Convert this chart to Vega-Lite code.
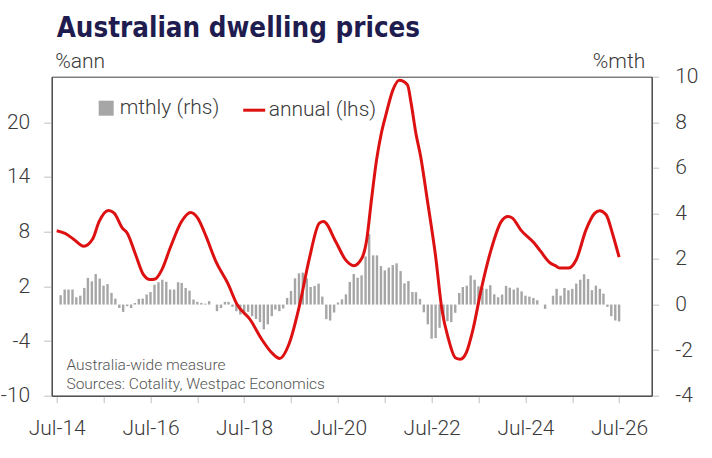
{
  "$schema": "https://vega.github.io/schema/vega-lite/v6.json",
  "width": 600,
  "height": 319,
  "autosize": {"type": "none"},
  "padding": {"left": 51.7, "top": 76.7, "right": 60.3, "bottom": 62.3},
  "background": "white",
  "title": {
    "text": "Australian dwelling prices",
    "font": "'DejaVu Sans Condensed', 'Liberation Sans Narrow', 'DejaVu Sans', sans-serif",
    "fontWeight": "bold",
    "fontSize": 27.5,
    "color": "#1F1C4F",
    "anchor": "start",
    "frame": "group",
    "dx": 5,
    "offset": 8
  },
  "config": {
    "view": {"stroke": "#404040", "strokeWidth": 1},
    "font": "Roboto",
    "axis": {
      "labelFont": "Roboto",
      "labelFontWeight": 300,
      "labelFontSize": 21,
      "labelColor": "#3a3a3a",
      "titleFont": "Roboto",
      "titleFontWeight": 300,
      "titleFontSize": 21,
      "titleColor": "#3a3a3a",
      "domainColor": "#404040",
      "tickColor": "#BFBFBF",
      "grid": false
    },
    "legend": {
      "labelFont": "Roboto",
      "labelFontWeight": 300,
      "labelFontSize": 21,
      "labelColor": "#3a3a3a"
    }
  },
  "datasets": {
    "bars": [
      {"date": "2014-08-01", "mthly": 0.41}, {"date": "2014-09-01", "mthly": 0.66}, {"date": "2014-10-01", "mthly": 0.66}, {"date": "2014-11-01", "mthly": 0.66}, {"date": "2014-12-01", "mthly": 0.32},
      {"date": "2015-01-01", "mthly": 0.39}, {"date": "2015-02-01", "mthly": 0.73}, {"date": "2015-03-01", "mthly": 1.17}, {"date": "2015-04-01", "mthly": 1.02}, {"date": "2015-05-01", "mthly": 1.34}, {"date": "2015-06-01", "mthly": 1.14}, {"date": "2015-07-01", "mthly": 0.83}, {"date": "2015-08-01", "mthly": 0.9}, {"date": "2015-09-01", "mthly": 0.51}, {"date": "2015-10-01", "mthly": 0.26}, {"date": "2015-11-01", "mthly": -0.15}, {"date": "2015-12-01", "mthly": -0.32},
      {"date": "2016-01-01", "mthly": -0.07}, {"date": "2016-02-01", "mthly": -0.15}, {"date": "2016-03-01", "mthly": 0.07}, {"date": "2016-04-01", "mthly": 0.25}, {"date": "2016-05-01", "mthly": 0.26}, {"date": "2016-06-01", "mthly": 0.44}, {"date": "2016-07-01", "mthly": 0.55}, {"date": "2016-08-01", "mthly": 0.87}, {"date": "2016-09-01", "mthly": 0.98}, {"date": "2016-10-01", "mthly": 1.09}, {"date": "2016-11-01", "mthly": 1.0}, {"date": "2016-12-01", "mthly": 0.66},
      {"date": "2017-01-01", "mthly": 0.66}, {"date": "2017-02-01", "mthly": 0.98}, {"date": "2017-03-01", "mthly": 0.95}, {"date": "2017-04-01", "mthly": 0.73}, {"date": "2017-05-01", "mthly": 0.61}, {"date": "2017-06-01", "mthly": 0.22}, {"date": "2017-07-01", "mthly": 0.12}, {"date": "2017-08-01", "mthly": 0.07}, {"date": "2017-09-01", "mthly": 0.04}, {"date": "2017-10-01", "mthly": 0.15}, {"date": "2017-11-01", "mthly": 0.0}, {"date": "2017-12-01", "mthly": -0.29},
      {"date": "2018-01-01", "mthly": -0.15}, {"date": "2018-02-01", "mthly": 0.12}, {"date": "2018-03-01", "mthly": 0.12}, {"date": "2018-04-01", "mthly": -0.1}, {"date": "2018-05-01", "mthly": -0.29}, {"date": "2018-06-01", "mthly": -0.44}, {"date": "2018-07-01", "mthly": -0.34}, {"date": "2018-08-01", "mthly": -0.32}, {"date": "2018-09-01", "mthly": -0.51}, {"date": "2018-10-01", "mthly": -0.63}, {"date": "2018-11-01", "mthly": -0.77}, {"date": "2018-12-01", "mthly": -1.09},
      {"date": "2019-01-01", "mthly": -0.87}, {"date": "2019-02-01", "mthly": -0.51}, {"date": "2019-03-01", "mthly": -0.22}, {"date": "2019-04-01", "mthly": -0.29}, {"date": "2019-05-01", "mthly": -0.17}, {"date": "2019-06-01", "mthly": 0.29}, {"date": "2019-07-01", "mthly": 0.6}, {"date": "2019-08-01", "mthly": 1.15}, {"date": "2019-09-01", "mthly": 1.37}, {"date": "2019-10-01", "mthly": 1.4}, {"date": "2019-11-01", "mthly": 1.14}, {"date": "2019-12-01", "mthly": 0.77},
      {"date": "2020-01-01", "mthly": 0.82}, {"date": "2020-02-01", "mthly": 0.92}, {"date": "2020-03-01", "mthly": 0.35}, {"date": "2020-04-01", "mthly": -0.64}, {"date": "2020-05-01", "mthly": -0.7}, {"date": "2020-06-01", "mthly": -0.35}, {"date": "2020-07-01", "mthly": 0.09}, {"date": "2020-08-01", "mthly": 0.23}, {"date": "2020-09-01", "mthly": 0.45}, {"date": "2020-10-01", "mthly": 0.99}, {"date": "2020-11-01", "mthly": 1.34}, {"date": "2020-12-01", "mthly": 1.18},
      {"date": "2021-01-01", "mthly": 1.28}, {"date": "2021-02-01", "mthly": 2.11}, {"date": "2021-03-01", "mthly": 3.09}, {"date": "2021-04-01", "mthly": 2.16}, {"date": "2021-05-01", "mthly": 2.16}, {"date": "2021-06-01", "mthly": 1.69}, {"date": "2021-07-01", "mthly": 1.5}, {"date": "2021-08-01", "mthly": 1.62}, {"date": "2021-09-01", "mthly": 1.73}, {"date": "2021-10-01", "mthly": 1.81}, {"date": "2021-11-01", "mthly": 1.47}, {"date": "2021-12-01", "mthly": 0.93},
      {"date": "2022-01-01", "mthly": 1.03}, {"date": "2022-02-01", "mthly": 0.55}, {"date": "2022-03-01", "mthly": 0.54}, {"date": "2022-04-01", "mthly": 0.25}, {"date": "2022-05-01", "mthly": -0.34}, {"date": "2022-06-01", "mthly": -0.87}, {"date": "2022-07-01", "mthly": -1.5}, {"date": "2022-08-01", "mthly": -1.47}, {"date": "2022-09-01", "mthly": -1.02}, {"date": "2022-10-01", "mthly": -0.66}, {"date": "2022-11-01", "mthly": -0.73}, {"date": "2022-12-01", "mthly": -0.77},
      {"date": "2023-01-01", "mthly": -0.36}, {"date": "2023-02-01", "mthly": 0.51}, {"date": "2023-03-01", "mthly": 0.77}, {"date": "2023-04-01", "mthly": 0.83}, {"date": "2023-05-01", "mthly": 1.28}, {"date": "2023-06-01", "mthly": 1.09}, {"date": "2023-07-01", "mthly": 0.8}, {"date": "2023-08-01", "mthly": 0.73}, {"date": "2023-09-01", "mthly": 0.69}, {"date": "2023-10-01", "mthly": 0.85}, {"date": "2023-11-01", "mthly": 0.45}, {"date": "2023-12-01", "mthly": 0.32},
      {"date": "2024-01-01", "mthly": 0.44}, {"date": "2024-02-01", "mthly": 0.82}, {"date": "2024-03-01", "mthly": 0.74}, {"date": "2024-04-01", "mthly": 0.66}, {"date": "2024-05-01", "mthly": 0.74}, {"date": "2024-06-01", "mthly": 0.58}, {"date": "2024-07-01", "mthly": 0.39}, {"date": "2024-08-01", "mthly": 0.35}, {"date": "2024-09-01", "mthly": 0.29}, {"date": "2024-10-01", "mthly": 0.19}, {"date": "2024-11-01", "mthly": 0.0}, {"date": "2024-12-01", "mthly": -0.19},
      {"date": "2025-01-01", "mthly": 0.0}, {"date": "2025-02-01", "mthly": 0.39}, {"date": "2025-03-01", "mthly": 0.69}, {"date": "2025-04-01", "mthly": 0.39}, {"date": "2025-05-01", "mthly": 0.73}, {"date": "2025-06-01", "mthly": 0.63}, {"date": "2025-07-01", "mthly": 0.69}, {"date": "2025-08-01", "mthly": 0.92}, {"date": "2025-09-01", "mthly": 1.09}, {"date": "2025-10-01", "mthly": 1.33}, {"date": "2025-11-01", "mthly": 1.12}, {"date": "2025-12-01", "mthly": 0.63},
      {"date": "2026-01-01", "mthly": 0.83}, {"date": "2026-02-01", "mthly": 0.69}, {"date": "2026-03-01", "mthly": 0.48}, {"date": "2026-04-01", "mthly": -0.1}, {"date": "2026-05-01", "mthly": -0.51}, {"date": "2026-06-01", "mthly": -0.7}, {"date": "2026-07-01", "mthly": -0.74}
    ],
    "annual": [
      {"date": "2014-07-01", "annual": 8.1}, {"date": "2014-09-04", "annual": 7.8}, {"date": "2014-11-07", "annual": 7.2}, {"date": "2015-01-28", "annual": 6.4}, {"date": "2015-04-07", "annual": 7.19}, {"date": "2015-05-28", "annual": 9.12}, {"date": "2015-08-07", "annual": 10.33}, {"date": "2015-09-22", "annual": 10.04}, {"date": "2015-11-25", "annual": 8.39},
      {"date": "2016-01-01", "annual": 7.85}, {"date": "2016-03-07", "annual": 5.47}, {"date": "2016-05-07", "annual": 3.28}, {"date": "2016-06-28", "annual": 2.74}, {"date": "2016-08-07", "annual": 2.81}, {"date": "2016-09-28", "annual": 3.83}, {"date": "2016-12-01", "annual": 6.2},
      {"date": "2017-02-28", "annual": 9.12}, {"date": "2017-05-10", "annual": 10.1}, {"date": "2017-07-04", "annual": 9.49}, {"date": "2017-09-07", "annual": 7.48}, {"date": "2017-11-22", "annual": 4.74},
      {"date": "2018-02-22", "annual": 2.37}, {"date": "2018-05-07", "annual": 0.0}, {"date": "2018-08-16", "annual": -1.64}, {"date": "2018-11-16", "annual": -3.83},
      {"date": "2019-02-01", "annual": -5.29}, {"date": "2019-04-04", "annual": -5.91}, {"date": "2019-06-19", "annual": -4.2}, {"date": "2019-09-04", "annual": -0.18}, {"date": "2019-11-19", "annual": 4.93},
      {"date": "2020-02-07", "annual": 8.94}, {"date": "2020-03-10", "annual": 9.12}, {"date": "2020-06-13", "annual": 6.93}, {"date": "2020-08-28", "annual": 4.93}, {"date": "2020-11-01", "annual": 4.27},
      {"date": "2021-01-04", "annual": 5.11}, {"date": "2021-02-10", "annual": 7.12}, {"date": "2021-03-19", "annual": 11.5}, {"date": "2021-04-28", "annual": 15.9}, {"date": "2021-06-04", "annual": 18.8}, {"date": "2021-07-13", "annual": 21.0}, {"date": "2021-09-01", "annual": 23.5}, {"date": "2021-10-22", "annual": 24.6}, {"date": "2021-12-25", "annual": 24.1},
      {"date": "2022-01-22", "annual": 22.1}, {"date": "2022-02-28", "annual": 18.8}, {"date": "2022-04-07", "annual": 16.2}, {"date": "2022-05-28", "annual": 11.5}, {"date": "2022-08-01", "annual": 5.28}, {"date": "2022-09-19", "annual": -0.55}, {"date": "2022-11-10", "annual": -3.83},
      {"date": "2023-01-01", "annual": -5.83}, {"date": "2023-02-10", "annual": -6.0}, {"date": "2023-03-28", "annual": -5.28}, {"date": "2023-05-19", "annual": -2.74}, {"date": "2023-07-22", "annual": 1.64}, {"date": "2023-10-07", "annual": 6.0}, {"date": "2023-12-25", "annual": 9.1},
      {"date": "2024-02-16", "annual": 9.66}, {"date": "2024-03-22", "annual": 9.48}, {"date": "2024-05-25", "annual": 8.2}, {"date": "2024-09-07", "annual": 6.75}, {"date": "2024-10-28", "annual": 5.83},
      {"date": "2025-01-10", "annual": 4.56}, {"date": "2025-02-19", "annual": 4.27}, {"date": "2025-03-28", "annual": 4.0}, {"date": "2025-06-01", "annual": 4.0}, {"date": "2025-08-01", "annual": 4.92}, {"date": "2025-10-16", "annual": 8.2}, {"date": "2025-12-22", "annual": 10.0},
      {"date": "2026-02-01", "annual": 10.3}, {"date": "2026-03-22", "annual": 9.85}, {"date": "2026-05-13", "annual": 7.66}, {"date": "2026-07-01", "annual": 5.2}
    ],
    "notes": [
      {"note": "Australia-wide measure", "line": 1},
      {"note": "Sources: Cotality, Westpac Economics", "line": 2}
    ]
  },
  "layer": [
    {
      "layer": [
        {
          "data": {"name": "bars"},
          "mark": {"type": "bar", "width": 2.4},
          "encoding": {
            "x": {
              "field": "date", "type": "temporal",
              "scale": {"domain": [{"year": 2014, "month": 7, "date": 1}, {"year": 2027, "month": 2, "date": 1}]},
              "axis": {
                "title": null,
                "values": [
                  {"year": 2014, "month": 7, "date": 1}, {"year": 2015, "month": 7, "date": 1}, {"year": 2016, "month": 7, "date": 1},
                  {"year": 2017, "month": 7, "date": 1}, {"year": 2018, "month": 7, "date": 1}, {"year": 2019, "month": 7, "date": 1},
                  {"year": 2020, "month": 7, "date": 1}, {"year": 2021, "month": 7, "date": 1}, {"year": 2022, "month": 7, "date": 1},
                  {"year": 2023, "month": 7, "date": 1}, {"year": 2024, "month": 7, "date": 1}, {"year": 2025, "month": 7, "date": 1},
                  {"year": 2026, "month": 7, "date": 1}
                ],
                "labelExpr": "year(datum.value) % 2 == 0 ? timeFormat(datum.value, '%b-%y') : ''",
                "tickSize": 7,
                "labelPadding": 15,
                "labelFlush": false,
                "labelOverlap": false
              }
            },
            "y": {
              "field": "mthly", "type": "quantitative",
              "scale": {"domain": [-4, 10], "nice": false, "zero": false},
              "axis": {
                "orient": "right",
                "values": [-4, -2, 0, 2, 4, 6, 8, 10],
                "labelExpr": "datum.value < 0 ? '-' + abs(datum.value) : '' + datum.value",
                "title": "%mth",
                "titleAngle": 0,
                "titleAlign": "right",
                "titleBaseline": "alphabetic",
                "titleX": -7,
                "titleY": -9,
                "tickSize": 7,
                "labelPadding": 16
              }
            },
            "fill": {
              "datum": "mthly (rhs)",
              "scale": {"range": ["#A6A6A6"]},
              "legend": {
                "orient": "none",
                "legendX": 44,
                "legendY": 21,
                "title": null,
                "symbolType": "square",
                "symbolSize": 225,
                "symbolStrokeWidth": 0,
                "labelOffset": 3
              }
            }
          }
        },
        {
          "mark": {"type": "rule", "color": "#555555", "strokeWidth": 1.2},
          "encoding": {"y": {"datum": 0}}
        }
      ]
    },
    {
      "layer": [
        {
          "data": {"name": "annual"},
          "mark": {"type": "line", "strokeWidth": 3, "interpolate": "monotone"},
          "encoding": {
            "x": {
              "field": "date", "type": "temporal",
              "scale": {"domain": [{"year": 2014, "month": 7, "date": 1}, {"year": 2027, "month": 2, "date": 1}]}
            },
            "y": {
              "field": "annual", "type": "quantitative",
              "scale": {"domain": [-10, 25], "nice": false, "zero": false},
              "axis": {
                "orient": "left",
                "values": [-10, -4, 2, 8, 14, 20],
                "labelExpr": "datum.value < 0 ? '-' + abs(datum.value) : '' + datum.value",
                "title": "%ann",
                "titleAngle": 0,
                "titleAlign": "left",
                "titleBaseline": "alphabetic",
                "titleX": 3,
                "titleY": -9,
                "tickSize": 8,
                "labelPadding": 14
              }
            },
            "stroke": {
              "datum": "annual (lhs)",
              "scale": {"range": ["#DD1111"]},
              "legend": {
                "orient": "none",
                "legendX": 190,
                "legendY": 21,
                "title": null,
                "symbolType": "stroke",
                "symbolSize": 484,
                "symbolStrokeWidth": 3,
                "labelOffset": 2
              }
            }
          }
        },
        {
          "data": {"name": "notes"},
          "transform": [{"filter": "datum.line == 1"}],
          "mark": {"type": "text", "align": "left", "baseline": "middle", "fontSize": 15.5, "font": "Roboto", "fontWeight": 300, "color": "#555555"},
          "encoding": {
            "x": {"datum": {"year": 2014, "month": 9, "date": 15}, "type": "temporal"},
            "y": {"datum": -6.65},
            "text": {"field": "note"}
          }
        },
        {
          "data": {"name": "notes"},
          "transform": [{"filter": "datum.line == 2"}],
          "mark": {"type": "text", "align": "left", "baseline": "middle", "fontSize": 15.5, "font": "Roboto", "fontWeight": 300, "color": "#555555"},
          "encoding": {
            "x": {"datum": {"year": 2014, "month": 9, "date": 15}, "type": "temporal"},
            "y": {"datum": -8.75},
            "text": {"field": "note"}
          }
        }
      ]
    }
  ],
  "resolve": {"scale": {"y": "independent"}}
}
